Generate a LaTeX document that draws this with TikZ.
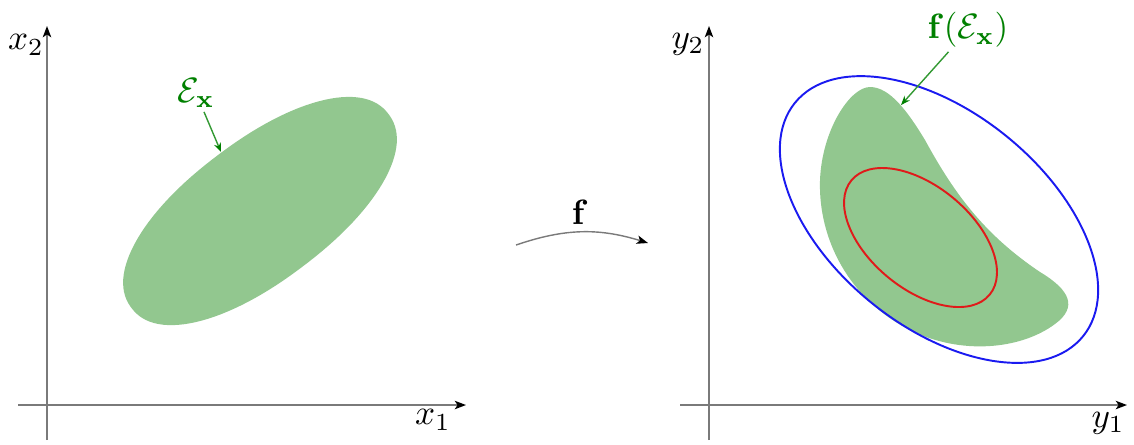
\documentclass[tikz,border=0pt]{standalone}
\usepackage{amsmath,amssymb,bm}
\usepackage{xcolor}
\usepackage{tikz}
\usetikzlibrary{arrows.meta}
\definecolor{setgreen}{HTML}{92C78F}
\definecolor{labelgreen}{HTML}{008000}
\definecolor{axisgray}{HTML}{7A7A7A}
\definecolor{outerblue}{HTML}{1A1AF0}
\definecolor{innerred}{HTML}{E01A1A}
\tikzset{
  axis/.style={draw=axisgray,line width=0.45pt,
    -{Stealth[length=3.2pt,width=2.4pt,inset=0.8pt,color=black]}},
  setfill/.style={fill=setgreen,draw=none},
  setlabel/.style={text=labelgreen,inner sep=1pt},
  pointer/.style={draw=labelgreen!80,line width=0.4pt,
    -{Stealth[length=2.6pt,width=2pt,color=labelgreen]}},
  bound/.style={line width=0.55pt},
  maparrow/.style={draw=axisgray,line width=0.4pt,
    -{Stealth[length=3.2pt,width=2.4pt,inset=0.8pt,color=black]}}
}

\begin{document}
\begin{tikzpicture}[x=0.01cm,y=-0.01cm]
  \useasboundingbox (0,0) rectangle (1134,444);
  % input space
  \coordinate (xo) at (47,440);
  \coordinate (xtop) at (47,26);
  \coordinate (xl) at (18,405);
  \coordinate (xr) at (466,405);
  \draw[axis] (xo) -- (xtop);
  \draw[axis] (xl) -- (xr);
  \node (xtwo) at (26,45) {$x_2$};
  \node (xone) at (433,420) {$x_1$};
  \fill[setfill,shift={(260,211)},rotate=37]
    plot[domain=1:361,samples=121,variable=\t]
    ({161*cos(\t)*abs(cos(\t))^(-0.07)},{70*sin(\t)*abs(sin(\t))^(-0.07)}) -- cycle;
  \node[setlabel] (ex) at (196,93) {$\mathcal{E}_{\mathbf{x}}$};
  \coordinate (exp) at (221,152);
  \draw[pointer] (ex) -- (exp);
  % the map
  \coordinate (fs) at (516,245);
  \coordinate (fe) at (648,243);
  \draw[maparrow] (fs) to[bend left=18] (fe);
  \node (fmap) at (580,212) {$\mathbf{f}$};
  % output space
  \coordinate (yo) at (709,440);
  \coordinate (ytop) at (709,26);
  \coordinate (yl) at (680,405);
  \coordinate (yr) at (1127,405);
  \draw[axis] (yo) -- (ytop);
  \draw[axis] (yl) -- (yr);
  \node (ytwo) at (688,44) {$y_2$};
  \node (yone) at (1108,423) {$y_1$};
  \fill[setfill] (870,87) .. controls (890,87) and (908,112) .. (925,140)
    .. controls (955,195) and (985,235) .. (1040,272)
    .. controls (1070,290) and (1078,307) .. (1055,324)
    .. controls (1020,350) and (960,355) .. (910,330)
    .. controls (850,300) and (818,240) .. (820,180)
    .. controls (822,130) and (850,87) .. (870,87) -- cycle;
  \draw[bound,draw=outerblue] (939,219.5) circle[x radius=185.4,y radius=107.2,rotate=-39];
  \draw[bound,draw=innerred] (920.5,237.5) circle[x radius=89.7,y radius=51.3,rotate=-39.6];
  \node[setlabel] (fex) at (968,30) {$\mathbf{f}(\mathcal{E}_{\mathbf{x}})$};
  \coordinate (fexp) at (901,105);
  \draw[pointer] (fex) -- (fexp);
\end{tikzpicture}
\end{document}
